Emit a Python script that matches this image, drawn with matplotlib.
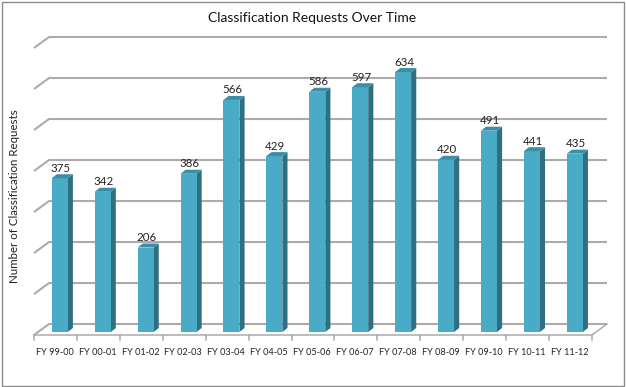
import matplotlib
matplotlib.use("Agg")
import matplotlib.pyplot as plt
from matplotlib.patches import Polygon, Rectangle

categories = ["FY 99-00", "FY 00-01", "FY 01-02", "FY 02-03", "FY 03-04", "FY 04-05",
              "FY 05-06", "FY 06-07", "FY 07-08", "FY 08-09", "FY 09-10", "FY 10-11", "FY 11-12"]
requests = [375, 342, 206, 386, 566, 429, 586, 597, 634, 420, 491, 441, 435]
grid_values = list(range(0, 800, 100))

plt.rcParams["font.family"] = ["Lato", "DejaVu Sans"]

# fake 3d depth offsets (x in category units, y in value units)
WALL_DX, WALL_DY = 0.35, 26.8
BAR_DX, BAR_DY = 0.10, 7.3
DEPTH_DX, DEPTH_DY = 0.12, 9.8
BAR_W = 0.373

FRONT = "#4aabc6"
SIDE = "#2e6f82"
TOP = "#3b8ea6"
GRID = "#ababab"

fig = plt.figure(figsize=(6.26, 3.87), dpi=100)
ax = fig.add_axes([0, 0, 1, 1])
ax.set_xlim(-34 / 42.92, (626 - 34) / 42.92)
ax.set_ylim(-52 / 0.41, 335 / 0.41)
ax.axis("off")

n = len(categories)

# back wall gridlines + left wall diagonals
for v in grid_values:
    ax.plot([0, WALL_DX, n + WALL_DX], [v, v + WALL_DY, v + WALL_DY],
            color=GRID, lw=1.5, solid_capstyle="butt", zorder=1)

# floor front edge, right diagonal and category ticks
ax.plot([0, n, n + WALL_DX], [0, 0, WALL_DY], color=GRID, lw=1.1, zorder=1)
for i in range(n + 1):
    ax.plot([i, i], [0, -13], color=GRID, lw=1.1, zorder=1)

# bars
lefts = [i + (1 - BAR_W) / 2 + BAR_DX for i in range(n)]
ax.bar(lefts, requests, width=BAR_W, bottom=BAR_DY, align="edge",
       color=FRONT, edgecolor="none", zorder=3)
for x, v in zip(lefts, requests):
    top = v + BAR_DY
    side = [(x + BAR_W, BAR_DY), (x + BAR_W + DEPTH_DX, BAR_DY + DEPTH_DY),
            (x + BAR_W + DEPTH_DX, top + DEPTH_DY), (x + BAR_W, top)]
    lid = [(x, top), (x + DEPTH_DX, top + DEPTH_DY),
           (x + BAR_W + DEPTH_DX, top + DEPTH_DY), (x + BAR_W, top)]
    ax.add_patch(Polygon(side, closed=True, facecolor=SIDE, edgecolor="none", zorder=2))
    ax.add_patch(Polygon(lid, closed=True, facecolor=TOP, edgecolor="none", zorder=4))
    ax.text(x + BAR_W / 2 + 0.02, top + DEPTH_DY + 6, str(v), ha="center", va="baseline",
            fontsize=8.3, color="#222222", zorder=5)

for i, lab in enumerate(categories):
    ax.text(i + 0.48, -43, lab, ha="center", va="center", fontsize=6.6, color="#222222")

fig.text(0.499, 1 - 18 / 387, "Classification Requests Over Time", ha="center", va="center",
         fontsize=10, color="#111111")
fig.text(15 / 626, 1 - 196 / 387, "Number of Classification Requests", rotation=90,
         ha="center", va="center", fontsize=8.3, color="#222222")

fig.add_artist(Rectangle((1.5 / 626, 1.5 / 387), 622.5 / 626, 383.5 / 387,
                         transform=fig.transFigure, fill=False, edgecolor="#8c8c8c", lw=1))

fig.savefig("out.png", dpi=100)
